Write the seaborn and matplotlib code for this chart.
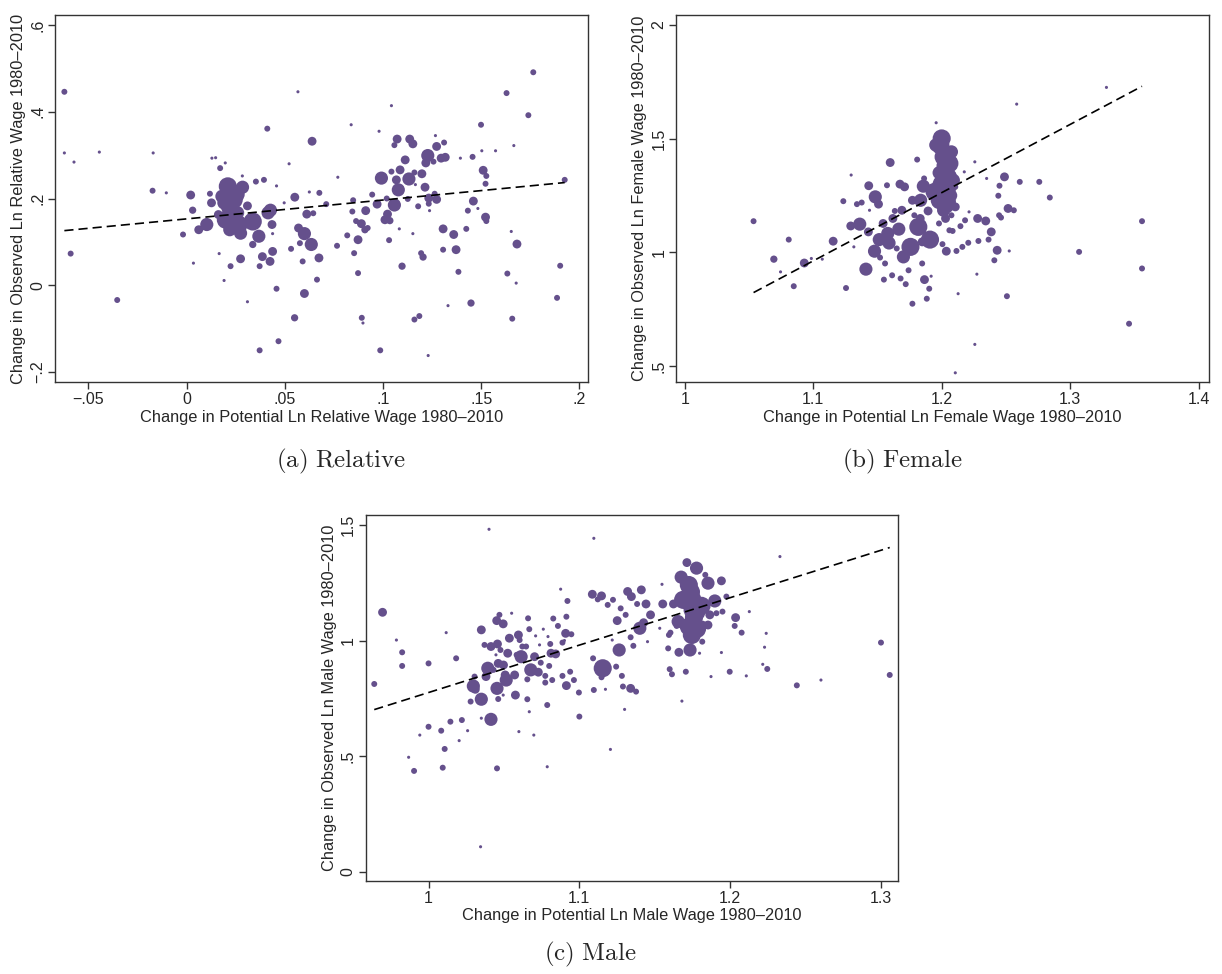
import matplotlib
matplotlib.use("Agg")
import matplotlib.pyplot as plt
import seaborn as sns
import pandas as pd

# ---- data (x, y, weight) ----
# weights ~ marker area: 1 tiny, 4 small, 6-9 medium, 20 large, 38 huge
rel_x = [-0.0622, -0.0622, -0.0573, -0.0590, -0.0444, -0.0353, -0.0173, -0.0170, -0.0103, -0.0018,
         0.0021, 0.0031, 0.0035, 0.0062, 0.0103, 0.0119, 0.0127, 0.0129, 0.0148, 0.0162,
         0.0166, 0.0171, 0.0191, 0.0197, 0.0210, 0.0220, 0.0240, 0.0200, 0.0260, 0.0220,
         0.0285, 0.0275, 0.0284, 0.0310, 0.0310, 0.0224, 0.0275, 0.0337, 0.0337, 0.0353,
         0.0368, 0.0372, 0.0372, 0.0386, 0.0394, 0.0411, 0.0415, 0.0427, 0.0438, 0.0438,
         0.0425, 0.0435, 0.0458, 0.0468, 0.0458, 0.0497, 0.0522, 0.0532, 0.0550, 0.0551,
         0.0570, 0.0567, 0.0577, 0.0591, 0.0600, 0.0600, 0.0612, 0.0625, 0.0639, 0.0635,
         0.0645, 0.0664, 0.0676, 0.0674, 0.0711, 0.0766, 0.0770, 0.0818, 0.0838, 0.0844,
         0.0848, 0.0853, 0.0863, 0.0873, 0.0873, 0.0890, 0.0892, 0.0898, 0.0908, 0.0912,
         0.0922, 0.0945, 0.0970, 0.0980, 0.0992, 0.0986, 0.1010, 0.1019, 0.1023, 0.1031,
         0.1035, 0.1043, 0.1043, 0.1058, 0.1058, 0.1068, 0.1072, 0.1078, 0.1083, 0.1087,
         0.1097, 0.1113, 0.1126, 0.1132, 0.1136, 0.1152, 0.1152, 0.1160, 0.1160, 0.1165,
         0.1179, 0.1185, 0.1194, 0.1198, 0.1204, 0.1214, 0.1218, 0.1228, 0.1233, 0.1233,
         0.1237, 0.1230, 0.1257, 0.1263, 0.1267, 0.1273, 0.1273, 0.1296, 0.1306, 0.1306,
         0.1311, 0.1317, 0.1331, 0.1360, 0.1372, 0.1384, 0.1394, 0.1424, 0.1432, 0.1448,
         0.1456, 0.1460, 0.1483, 0.1499, 0.1503, 0.1510, 0.1522, 0.1526, 0.1522, 0.1526,
         0.1573, 0.1629, 0.1633, 0.1653, 0.1658, 0.1666, 0.1678, 0.1682, 0.1740, 0.1765,
         0.1886, 0.1902, 0.1925, 0.0230, 0.0250, 0.0190, 0.0265, 0.0180]
rel_y = [0.446, 0.305, 0.284, 0.073, 0.307, -0.034, 0.218, 0.305, 0.213, 0.117,
         0.208, 0.173, 0.051, 0.128, 0.140, 0.211, 0.190, 0.293, 0.294, 0.163,
         0.073, 0.270, 0.011, 0.282, 0.228, 0.182, 0.197, 0.151, 0.167, 0.128,
         0.226, 0.120, 0.252, 0.183, -0.038, 0.044, 0.061, 0.147, 0.094, 0.239,
         0.113, -0.150, 0.044, 0.066, 0.243, 0.361, 0.167, 0.173, 0.119, 0.078,
         0.055, 0.140, -0.008, -0.129, 0.229, 0.190, 0.280, 0.084, -0.075, 0.203,
         0.132, 0.446, 0.097, 0.055, 0.119, -0.019, 0.164, 0.215, 0.332, 0.094,
         0.166, 0.013, 0.213, 0.063, 0.187, 0.091, 0.249, 0.115, 0.370, 0.170,
         0.196, 0.074, 0.148, 0.105, 0.028, 0.142, -0.075, -0.087, 0.128, 0.172,
         0.132, 0.209, 0.187, 0.355, 0.247, -0.150, 0.151, 0.200, 0.164, 0.104,
         0.149, 0.414, 0.262, 0.185, 0.323, 0.243, 0.337, 0.220, 0.130, 0.266,
         0.044, 0.289, 0.199, 0.245, 0.337, 0.326, 0.119, 0.260, -0.079, 0.232,
         0.182, -0.071, 0.074, 0.257, 0.065, 0.226, 0.282, 0.299, 0.201, 0.188,
         0.172, -0.162, 0.285, 0.211, 0.345, 0.320, 0.198, 0.293, 0.130, 0.082,
         0.329, 0.295, -0.047, 0.117, 0.082, 0.031, 0.293, 0.130, 0.172, -0.041,
         0.296, 0.194, 0.177, 0.370, 0.310, 0.265, 0.234, 0.252, 0.157, 0.148,
         0.310, 0.443, 0.027, 0.124, -0.077, 0.322, 0.005, 0.095, 0.392, 0.491,
         -0.029, 0.045, 0.243, 0.160, 0.210, 0.190, 0.140, 0.205]
rel_w = [4, 1, 1, 4, 1, 4, 4, 1, 1, 4,
         9, 6, 1, 9, 20, 4, 9, 1, 1, 9,
         1, 4, 1, 1, 38, 38, 38, 38, 20, 20,
         20, 20, 1, 9, 1, 4, 9, 38, 6, 4,
         20, 4, 4, 9, 4, 4, 20, 20, 1, 9,
         9, 9, 4, 4, 1, 1, 1, 4, 6, 9,
         9, 1, 4, 4, 20, 9, 9, 1, 9, 20,
         4, 4, 4, 9, 4, 4, 1, 4, 1, 4,
         4, 4, 4, 9, 4, 9, 4, 1, 6, 9,
         4, 4, 9, 1, 20, 4, 9, 4, 9, 4,
         6, 1, 4, 20, 4, 9, 9, 20, 1, 9,
         6, 9, 4, 20, 9, 9, 1, 4, 4, 1,
         4, 4, 4, 9, 6, 9, 9, 20, 9, 4,
         1, 1, 4, 4, 1, 9, 9, 9, 9, 4,
         4, 9, 1, 9, 9, 4, 1, 4, 4, 6,
         4, 9, 1, 4, 1, 9, 4, 4, 9, 4,
         1, 4, 4, 1, 4, 1, 1, 9, 4, 4,
         4, 4, 4, 38, 38, 20, 38, 20]

fem_x = [1.0535, 1.0693, 1.0745, 1.0809, 1.0848, 1.0930, 1.0985, 1.1070, 1.1155, 1.1234,
         1.1255, 1.1292, 1.1295, 1.1316, 1.1340, 1.1362, 1.1377, 1.1410, 1.1432, 1.1429,
         1.1438, 1.1477, 1.1483, 1.1508, 1.1514, 1.1520, 1.1544, 1.1550, 1.1559, 1.1574,
         1.1580, 1.1590, 1.1599, 1.1614, 1.1620, 1.1635, 1.1650, 1.1666, 1.1675, 1.1680,
         1.1690, 1.1702, 1.1711, 1.1720, 1.1742, 1.1757, 1.1772, 1.1772, 1.1787, 1.1809,
         1.1818, 1.1833, 1.1836, 1.1848, 1.1848, 1.1857, 1.1863, 1.1866, 1.1884, 1.1894,
         1.1903, 1.1909, 1.1918, 1.1957, 1.1945, 1.1954, 1.2000, 1.2015, 1.2030, 1.2060,
         1.2076, 1.2046, 1.1985, 1.2015, 1.2060, 1.2091, 1.2106, 1.2076, 1.2030, 1.1979,
         1.2006, 1.2036, 1.2060, 1.2085, 1.2106, 1.2115, 1.2128, 1.2106, 1.2146, 1.2161,
         1.2176, 1.2182, 1.2207, 1.2213, 1.2258, 1.2258, 1.2274, 1.2280, 1.2286, 1.2343,
         1.2350, 1.2365, 1.2386, 1.2410, 1.2432, 1.2441, 1.2447, 1.2450, 1.2462, 1.2489,
         1.2508, 1.2517, 1.2526, 1.2562, 1.2584, 1.2608, 1.2760, 1.2842, 1.3070, 1.3283,
         1.3459, 1.3560, 1.3560, 1.1990, 1.2030, 1.2050, 1.2000, 1.2070, 1.2030, 1.1980]
fem_y = [1.137, 0.970, 0.914, 1.056, 0.851, 0.953, 0.973, 0.970, 1.049, 1.225,
         0.843, 1.116, 1.340, 1.024, 1.212, 1.124, 1.219, 0.926, 1.293, 1.090,
         1.185, 1.005, 1.244, 1.212, 1.056, 0.977, 1.127, 0.880, 0.951, 1.295,
         1.083, 1.041, 1.395, 0.899, 1.149, 1.182, 1.017, 1.102, 1.300, 0.885,
         1.185, 0.980, 1.288, 0.860, 0.921, 1.024, 1.229, 0.774, 1.163, 1.408,
         1.112, 1.149, 1.229, 0.951, 1.046, 1.291, 1.325, 0.880, 0.796, 1.182,
         0.840, 1.056, 0.895, 1.570, 1.266, 1.472, 1.501, 1.420, 1.347, 1.391,
         1.442, 1.288, 1.229, 1.185, 1.222, 1.317, 1.200, 1.163, 1.149, 1.127,
         1.036, 1.005, 1.097, 1.094, 1.288, 1.006, 0.818, 0.470, 1.115, 1.024,
         1.354, 1.141, 1.042, 1.178, 1.398, 0.595, 0.904, 1.149, 1.050, 1.138,
         1.325, 1.056, 1.090, 0.965, 1.009, 1.249, 1.163, 1.293, 1.153, 1.332,
         0.807, 1.193, 1.006, 1.185, 1.652, 1.310, 1.310, 1.241, 1.002, 1.7255,
         0.686, 1.137, 0.929, 1.470, 1.380, 1.330, 1.300, 1.250, 1.210, 1.350]
fem_w = [4, 6, 1, 4, 4, 9, 1, 1, 9, 4,
         4, 9, 1, 1, 4, 20, 4, 20, 9, 9,
         1, 20, 20, 9, 20, 4, 9, 4, 4, 4,
         20, 20, 9, 4, 9, 4, 4, 20, 9, 4,
         9, 20, 9, 4, 4, 38, 9, 4, 4, 4,
         38, 9, 20, 4, 9, 20, 4, 9, 4, 9,
         4, 38, 1, 1, 38, 20, 38, 38, 38, 38,
         20, 38, 38, 20, 20, 20, 9, 4, 9, 4,
         4, 9, 4, 4, 4, 4, 1, 1, 4, 4,
         1, 4, 4, 1, 1, 1, 1, 9, 4, 9,
         1, 4, 9, 4, 9, 4, 4, 4, 4, 9,
         4, 9, 1, 4, 1, 4, 4, 4, 4, 1,
         4, 4, 4, 38, 38, 38, 38, 20, 38, 20]

male_x = [0.9640, 0.9695, 0.9787, 0.9825, 0.9825, 0.9868, 0.9904, 0.9942, 1.0000, 1.0000,
          1.0084, 1.0094, 1.0107, 1.0117, 1.0145, 1.0183, 1.0203, 1.0221, 1.0259, 1.0279,
          1.0297, 1.0310, 1.0305, 1.0350, 1.0350, 1.0350, 1.0371, 1.0345, 1.0381, 1.0393,
          1.0414, 1.0414, 1.0431, 1.0447, 1.0452, 1.0454, 1.0457, 1.0454, 1.0462, 1.0462,
          1.0470, 1.0477, 1.0495, 1.0495, 1.0497, 1.0508, 1.0515, 1.0525, 1.0536, 1.0551,
          1.0571, 1.0576, 1.0584, 1.0596, 1.0599, 1.0604, 1.0614, 1.0622, 1.0647, 1.0655,
          1.0655, 1.0660, 1.0668, 1.0668, 1.0678, 1.0698, 1.0703, 1.0710, 1.0728, 1.0736,
          1.0744, 1.0761, 1.0774, 1.0774, 1.0787, 1.0787, 1.0800, 1.0807, 1.0812, 1.0820,
          1.0827, 1.0843, 1.0858, 1.0876, 1.0888, 1.0888, 1.0901, 1.0909, 1.0914, 1.0914,
          1.0921, 1.0939, 1.0947, 1.0964, 1.0997, 1.1000, 1.1086, 1.1091, 1.1096, 1.1096,
          1.1122, 1.1147, 1.1155, 1.1147, 1.1173, 1.1188, 1.1206, 1.1218, 1.1223, 1.1244,
          1.1251, 1.1264, 1.1274, 1.1282, 1.1289, 1.1300, 1.1307, 1.1320, 1.1340, 1.1340,
          1.1345, 1.1358, 1.1376, 1.1383, 1.1401, 1.1411, 1.1426, 1.1442, 1.1452, 1.1472,
          1.1533, 1.1548, 1.1553, 1.1589, 1.1594, 1.1599, 1.1604, 1.1614, 1.1624, 1.1645,
          1.1655, 1.1660, 1.1675, 1.1680, 1.1688, 1.1706, 1.1713, 1.1726, 1.1726, 1.1734,
          1.1746, 1.1751, 1.1764, 1.1777, 1.1790, 1.1797, 1.1815, 1.1815, 1.1835, 1.1853,
          1.1853, 1.1865, 1.1873, 1.1898, 1.1909, 1.1942, 1.1942, 1.1949, 1.1975, 1.1997,
          1.2036, 1.2030, 1.2076, 1.2107, 1.2127, 1.2216, 1.2228, 1.2239, 1.2246, 1.2330,
          1.2442, 1.2602, 1.3000, 1.3058, 1.0401, 1.0792, 1.1720, 1.1760, 1.1780, 1.1740,
          1.1810]
male_y = [0.812, 1.122, 1.002, 0.949, 0.890, 0.495, 0.436, 0.591, 0.901, 0.627,
          0.610, 0.450, 0.531, 1.034, 0.649, 0.923, 0.567, 0.656, 0.610, 0.736,
          0.803, 0.789, 0.844, 1.046, 0.746, 0.664, 0.981, 0.108, 0.844, 0.880,
          0.659, 0.974, 0.873, 0.938, 1.086, 0.793, 0.985, 0.447, 0.901, 0.747,
          1.111, 0.959, 1.072, 0.764, 0.894, 0.851, 0.829, 0.945, 1.010, 1.118,
          0.851, 0.764, 0.938, 1.024, 0.606, 1.002, 0.930, 0.974, 0.974, 0.746,
          0.832, 1.096, 1.049, 0.692, 0.873, 0.591, 0.930, 1.020, 0.863, 0.981,
          0.904, 1.049, 0.818, 0.847, 0.454, 0.721, 0.890, 0.985, 0.945, 0.829,
          1.095, 0.942, 1.063, 1.222, 0.991, 0.847, 1.000, 1.031, 1.103, 0.805,
          1.171, 0.865, 1.027, 0.829, 0.775, 0.671, 1.200, 0.923, 0.786, 1.442,
          1.178, 1.193, 0.880, 0.841, 0.789, 1.154, 0.529, 1.002, 1.176, 0.887,
          1.086, 0.959, 1.139, 0.847, 0.801, 0.702, 1.111, 1.212, 0.793, 1.014,
          1.190, 0.977, 0.779, 1.158, 1.053, 1.219, 1.077, 1.158, 0.995, 1.111,
          1.053, 1.243, 1.158, 0.966, 1.024, 0.876, 1.034, 0.854, 1.158, 1.063,
          1.082, 0.949, 1.274, 0.738, 1.176, 0.865, 1.337, 1.240, 1.060, 0.959,
          1.024, 1.132, 1.182, 1.313, 1.118, 0.945, 1.067, 0.995, 1.284, 1.248,
          1.067, 1.111, 0.844, 1.171, 1.118, 1.258, 0.948, 1.125, 1.190, 0.865,
          1.099, 1.063, 1.034, 0.847, 1.125, 0.897, 0.971, 1.031, 0.877, 1.363,
          0.806, 0.829, 0.991, 0.851, 1.481, 1.017, 1.170, 1.100, 1.050, 1.210,
          1.150]
male_w = [4, 9, 1, 4, 4, 1, 4, 1, 4, 4,
          4, 4, 4, 1, 4, 4, 1, 4, 1, 4,
          20, 9, 4, 9, 20, 1, 4, 1, 9, 20,
          20, 9, 4, 1, 9, 20, 9, 4, 9, 4,
          4, 4, 9, 1, 9, 9, 20, 9, 9, 1,
          9, 9, 4, 9, 1, 4, 20, 4, 4, 4,
          4, 4, 4, 1, 20, 1, 9, 1, 9, 1,
          4, 1, 4, 4, 1, 4, 4, 4, 9, 4,
          4, 9, 4, 1, 4, 4, 1, 9, 4, 9,
          4, 4, 4, 4, 4, 4, 9, 4, 4, 1,
          4, 9, 38, 4, 1, 4, 1, 1, 4, 4,
          9, 20, 4, 4, 4, 1, 4, 9, 9, 4,
          9, 4, 4, 4, 20, 9, 9, 9, 1, 9,
          1, 1, 9, 4, 4, 4, 4, 4, 9, 4,
          20, 9, 20, 1, 38, 4, 9, 38, 38, 20,
          38, 38, 20, 20, 20, 1, 9, 4, 4, 20,
          9, 9, 1, 20, 4, 9, 1, 4, 4, 4,
          9, 4, 4, 1, 1, 1, 1, 1, 4, 1,
          4, 1, 4, 4, 1, 1, 38, 38, 38, 38,
          38]

# weighted fit lines (intercept, slope), drawn over each panel's x-span
rel_fit = (0.153, 0.435)
fem_fit = (-2.3375, 3.0)
male_fit = (-1.276, 2.051)

# axis settings
rel_xticks = [-0.05, 0, 0.05, 0.1, 0.15, 0.2]
rel_xlabels = ["\u2212.05", "0", ".05", ".1", ".15", ".2"]
rel_yticks = [-0.2, 0, 0.2, 0.4, 0.6]
rel_ylabels = ["\u2212.2", "0", ".2", ".4", ".6"]
fem_xticks = [1, 1.1, 1.2, 1.3, 1.4]
fem_xlabels = ["1", "1.1", "1.2", "1.3", "1.4"]
fem_yticks = [0.5, 1, 1.5, 2]
fem_ylabels = [".5", "1", "1.5", "2"]
male_xticks = [1, 1.1, 1.2, 1.3]
male_xlabels = ["1", "1.1", "1.2", "1.3"]
male_yticks = [0, 0.5, 1, 1.5]
male_ylabels = ["0", ".5", "1", "1.5"]

panels = [
    dict(x=rel_x, y=rel_y, w=rel_w, fit=rel_fit,
         xlim=(-0.0671, 0.2045), ylim=(-0.223, 0.623),
         xt=rel_xticks, xl=rel_xlabels, yt=rel_yticks, yl=rel_ylabels,
         xlabel="Change in Potential Ln Relative Wage 1980\u20132010",
         ylabel="Change in Observed Ln Relative Wage 1980\u20132010",
         pos=[0.0448, 0.6078, 0.4366, 0.3768], cap="(a)\\ Relative", cxy=(0.279, 0.5267)),
    dict(x=fem_x, y=fem_y, w=fem_w, fit=fem_fit,
         xlim=(0.9934, 1.4082), ylim=(0.4296, 2.044),
         xt=fem_xticks, xl=fem_xlabels, yt=fem_yticks, yl=fem_ylabels,
         xlabel="Change in Potential Ln Female Wage 1980\u20132010",
         ylabel="Change in Observed Ln Female Wage 1980\u20132010",
         pos=[0.5535, 0.6078, 0.4359, 0.3768], cap="(b)\\ Female", cxy=(0.738, 0.5267)),
    dict(x=male_x, y=male_y, w=male_w, fit=male_fit,
         xlim=(0.9582, 1.3114), ylim=(-0.040, 1.543),
         xt=male_xticks, xl=male_xlabels, yt=male_yticks, yl=male_ylabels,
         xlabel="Change in Potential Ln Male Wage 1980\u20132010",
         ylabel="Change in Observed Ln Male Wage 1980\u20132010",
         pos=[0.2991, 0.0955, 0.4359, 0.3758], cap="(c)\\ Male", cxy=(0.483, 0.0200)),
]

sns.set_style("white")
plt.rcParams["font.family"] = ["Liberation Sans", "DejaVu Sans"]
plt.rcParams["mathtext.fontset"] = "cm"

purple = "#65508c"
fig = plt.figure(figsize=(12.22, 9.74), dpi=100)

for p in panels:
    ax = fig.add_axes(p["pos"])
    df = pd.DataFrame({"x": p["x"], "y": p["y"], "w": p["w"]})
    sns.scatterplot(data=df, x="x", y="y", size="w", sizes=(5, 170), size_norm=(1, 38),
                    color=purple, linewidth=0, alpha=1, legend=False, ax=ax)
    a, b = p["fit"]
    xs = [min(p["x"]), max(p["x"])]
    ax.plot(xs, [a + b * v for v in xs], color="black", lw=1.2, ls=(0, (5.5, 3)))
    ax.set_xlim(p["xlim"])
    ax.set_ylim(p["ylim"])
    ax.set_xticks(p["xt"])
    ax.set_xticklabels(p["xl"], fontsize=11.5)
    ax.set_yticks(p["yt"])
    ax.set_yticklabels(p["yl"], fontsize=11.5, rotation=90, va="center")
    ax.tick_params(direction="out", length=5, width=1, color="#333333", pad=2,
                   bottom=True, left=True)
    ax.set_xlabel(p["xlabel"], fontsize=11.8, labelpad=2)
    ax.set_ylabel(p["ylabel"], fontsize=11.8, labelpad=3)
    for s in ax.spines.values():
        s.set_color("#333333")
        s.set_linewidth(1.0)
    fig.text(p["cxy"][0], p["cxy"][1], "$\\mathrm{" + p["cap"] + "}$",
             ha="center", va="center", fontsize=18)

fig.savefig("out.png", dpi=100)
